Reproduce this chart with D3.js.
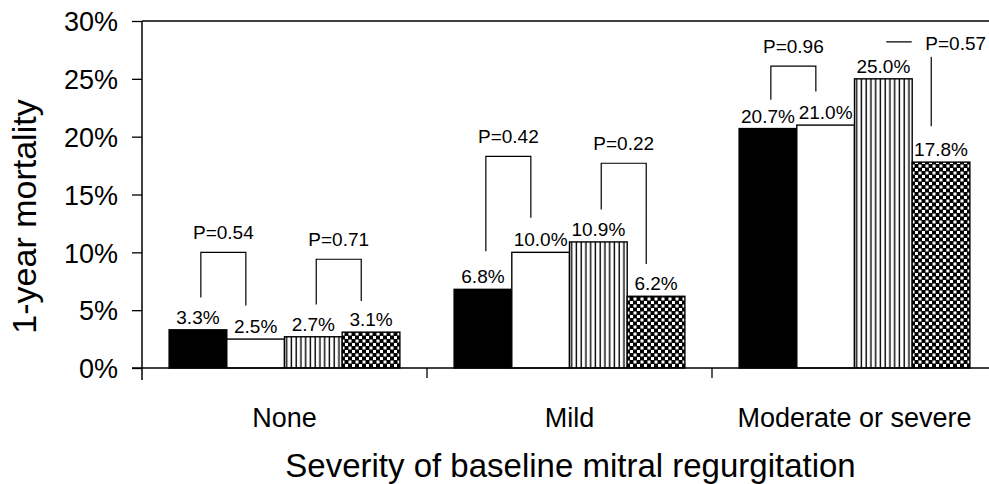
<!DOCTYPE html>
<html>
    <head>
        <title>Mitral regurgitation mortality</title>
        <script src="https://d3js.org/d3.v7.min.js"></script>
        <style>
            body { margin: 0; background: white; }
            svg text { font-family: "Liberation Sans", Arial, Helvetica, sans-serif; fill: black; }
            .axis .domain { stroke: none; }
            .axis line { stroke: black; stroke-width: 1.3; }
        </style>
    </head>

    <body>
        <svg id="svg" width=989 height=484></svg>

        <script>
            // Data
            const categories = ["None", "Mild", "Moderate or severe"];
            const series = ["s1", "s2", "s3", "s4"];
            const values = [
                [3.3, 2.5, 2.7, 3.1],
                [6.8, 10.0, 10.9, 6.2],
                [20.7, 21.0, 25.0, 17.8]
            ];
            const yTicks = [0, 5, 10, 15, 20, 25, 30];

            // P-value brackets: category, pair of bars, top and leg ends (in %)
            const pLabels = ["P=0.54", "P=0.71", "P=0.42", "P=0.22", "P=0.96", "P=0.57"];
            const pCategory = [0, 0, 1, 1, 2, 2];
            const pFirstBar = [0, 2, 0, 2, 0, 2];
            const pTop = [10.0, 9.4, 18.3, 17.7, 26.1, 28.2];
            const pLeftEnd = [6.1, 5.5, 10.1, 13.7, 23.2, 28.2];
            const pRightEnd = [5.4, 5.8, 13.0, 9.0, 23.9, 20.9];

            const svg = d3.select("svg#svg");
            const width = +svg.attr("width");
            const height = +svg.attr("height");
            const margins = { top: 21, right: 0, bottom: 116, left: 142 };
            const chartHeight = height - margins.top - margins.bottom;

            // Patterns
            const defs = svg.append("defs");
            let stripes = defs.append("pattern")
                              .attr("id", "stripes")
                              .attr("patternUnits", "userSpaceOnUse")
                              .attr("width", 4.75).attr("height", 10);
            stripes.append("rect").attr("width", 4.75).attr("height", 10).attr("fill", "white");
            stripes.append("rect").attr("x", 1.5).attr("width", 1.4).attr("height", 10).attr("fill", "black");

            let checks = defs.append("pattern")
                             .attr("id", "checks")
                             .attr("patternUnits", "userSpaceOnUse")
                             .attr("width", 7).attr("height", 7);
            checks.append("rect").attr("width", 7).attr("height", 7).attr("fill", "black");
            checks.append("rect").attr("width", 3).attr("height", 3).attr("fill", "white");
            checks.append("rect").attr("x", 3.5).attr("y", 3.5).attr("width", 3).attr("height", 3).attr("fill", "white");

            const fills = d3.scaleOrdinal()
                            .domain(series)
                            .range(["black", "white", "url(#stripes)", "url(#checks)"]);

            // Scales
            const x0 = d3.scaleBand()
                         .domain(categories)
                         .range([margins.left, margins.left + 285 * 3])
                         .paddingInner(0).paddingOuter(0);
            const x1 = d3.scaleBand()
                         .domain(series)
                         .range([0, x0.bandwidth()])
                         .paddingInner(0).paddingOuter(0.47);
            const y = d3.scaleLinear()
                        .domain([0, 30])
                        .range([margins.top + chartHeight, margins.top]);

            // Frame lines
            svg.append("line")
               .attr("x1", margins.left).attr("x2", width)
               .attr("y1", y(30)).attr("y2", y(30))
               .attr("stroke", "black").attr("stroke-width", 1.5);

            // Left axis
            let leftAxis = d3.axisLeft(y)
                             .tickValues(yTicks)
                             .tickSize(10)
                             .tickSizeOuter(0)
                             .tickPadding(14)
                             .tickFormat(d => d + "%");
            let la = svg.append("g")
                        .attr("class", "axis")
                        .attr("transform", `translate(${margins.left},0)`)
                        .call(leftAxis);
            la.selectAll("text").style("font-size", "27px").attr("dy", "0.36em");

            svg.append("line")
               .attr("x1", margins.left).attr("x2", margins.left)
               .attr("y1", y(30)).attr("y2", y(0) + 12)
               .attr("stroke", "black").attr("stroke-width", 1.5);

            // Bars
            let groups = svg.append("g").attr("id", "bars")
                            .selectAll("g")
                            .data(categories)
                            .join("g")
                            .attr("transform", d => `translate(${x0(d)},0)`);

            groups.selectAll("rect")
                  .data((d, i) => values[i].map((v, j) => ({ key: series[j], value: v })))
                  .join("rect")
                  .attr("x", d => x1(d.key))
                  .attr("y", d => y(d.value))
                  .attr("width", x1.bandwidth())
                  .attr("height", d => y(0) - y(d.value))
                  .attr("fill", d => fills(d.key))
                  .attr("stroke", "black")
                  .attr("stroke-width", 1.4);

            groups.selectAll("text")
                  .data((d, i) => values[i].map((v, j) => ({ key: series[j], value: v })))
                  .join("text")
                  .attr("x", d => x1(d.key) + x1.bandwidth() / 2)
                  .attr("y", d => y(d.value) - 6)
                  .attr("text-anchor", "middle")
                  .style("font-size", "19px")
                  .text(d => d.value.toFixed(1) + "%");

            // Bottom axis line and category separators
            svg.append("line")
               .attr("x1", margins.left - 10).attr("x2", width)
               .attr("y1", y(0)).attr("y2", y(0))
               .attr("stroke", "black").attr("stroke-width", 1.5);
            svg.append("g")
               .selectAll("line")
               .data(categories.slice(1))
               .join("line")
               .attr("x1", d => x0(d)).attr("x2", d => x0(d))
               .attr("y1", y(0)).attr("y2", y(0) + 10)
               .attr("stroke", "black").attr("stroke-width", 1.3);

            let bottomAxis = d3.axisBottom(x0).tickSize(0).tickPadding(40);
            let ba = svg.append("g")
                        .attr("class", "axis")
                        .attr("transform", `translate(0,${y(0)})`)
                        .call(bottomAxis);
            ba.selectAll("text").style("font-size", "27px");

            // Brackets
            const legLeft = 0.55, legRight = 0.33;
            let brackets = svg.append("g").attr("id", "brackets")
                              .selectAll("g")
                              .data(pLabels)
                              .join("g");
            brackets.each(function(label, i) {
                const g = d3.select(this);
                const cat = categories[pCategory[i]];
                const b1 = series[pFirstBar[i]], b2 = series[pFirstBar[i] + 1];
                const xl = x0(cat) + x1(b1) + x1.bandwidth() * legLeft;
                const xr = x0(cat) + x1(b2) + x1.bandwidth() * legRight;
                const path = d3.path();
                path.moveTo(xl, y(pLeftEnd[i]));
                path.lineTo(xl, y(pTop[i]));
                path.lineTo(xr, y(pTop[i]));
                path.lineTo(xr, y(pRightEnd[i]));
                g.append("path")
                 .attr("d", path.toString())
                 .attr("fill", "none")
                 .attr("stroke", "black")
                 .attr("stroke-width", 1.2);

                const side = pLeftEnd[i] >= pTop[i];   // label sits on the bracket line
                const tx = side ? (xl + xr) / 2 + 47 : (xl + xr) / 2;
                const ty = side ? y(pTop[i]) + 8 : y(pTop[i]) - 13;
                if (side) {
                    g.append("rect")
                     .attr("x", tx - 44).attr("y", ty - 17)
                     .attr("width", 90).attr("height", 24)
                     .attr("fill", "white");
                }
                g.append("text")
                 .attr("x", tx).attr("y", ty)
                 .attr("text-anchor", "middle")
                 .style("font-size", "19px")
                 .text(label);
            });

            // Axis titles
            svg.append("text")
               .attr("transform", `translate(36,${margins.top + chartHeight / 2 + 22}) rotate(-90)`)
               .attr("text-anchor", "middle")
               .style("font-size", "34px")
               .text("1-year mortality");

            svg.append("text")
               .attr("x", (margins.left + 989) / 2 + 5)
               .attr("y", 477)
               .attr("text-anchor", "middle")
               .style("font-size", "33px")
               .text("Severity of baseline mitral regurgitation");
        </script>
    </body>
</html>
